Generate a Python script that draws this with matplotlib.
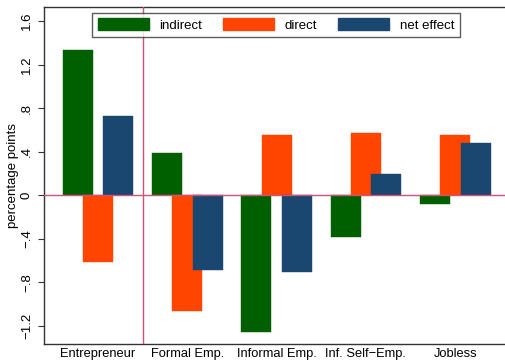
import matplotlib
matplotlib.use("Agg")
import matplotlib.pyplot as plt
import numpy as np
from matplotlib.patches import Patch

plt.rcParams['font.family'] = ['Liberation Sans', 'DejaVu Sans']

categories = ["Entrepreneur", "Formal Emp.", "Informal Emp.", "Inf. Self\u2212Emp.", "Jobless"]
indirect = [1.333, 0.383, -1.256, -0.383, -0.080]
direct = [-0.613, -1.066, 0.554, 0.573, 0.554]
net_effect = [0.726, -0.689, -0.708, 0.193, 0.478]
series_names = ["indirect", "direct", "net effect"]
colors = ["#006000", "#ff4500", "#1a476f"]
yticks = [-1.2, -0.8, -0.4, 0, 0.4, 0.8, 1.2, 1.6]
ytick_labels = ["\u22121.2", "\u2212.8", "\u2212.4", "0", ".4", ".8", "1.2", "1.6"]

fig = plt.figure(figsize=(5.05, 3.61), dpi=100)
ax = fig.add_axes([44 / 505, (361 - 344.3) / 361, 1 - 44 / 505, (344.3 - 7.3) / 361])

x = np.arange(len(categories))
width = 0.336
offsets = [-0.228, 0.0, 0.228]
for vals, off, col, name in zip([indirect, direct, net_effect], offsets, colors, series_names):
    ax.bar(x + off, vals, width=width, color=col, edgecolor=col, linewidth=0.3, label=name, zorder=2)

ax.axhline(0, color="#d05078", linewidth=1.0, zorder=3)
ax.axvline(0.5, color="#d05078", linewidth=1.0, zorder=3)

ax.set_xlim(-0.605, 4.558)
ax.set_ylim(-1.371, 1.726)
ax.set_xticks(x)
ax.set_xticklabels(categories, fontsize=9.3)
ax.tick_params(axis='x', length=0, pad=3)
ax.set_yticks(yticks)
ax.set_yticklabels(ytick_labels, fontsize=9.5, rotation=90, va='center')
ax.tick_params(axis='y', length=4, width=0.8, color="#333333", pad=4)
ax.set_ylabel("percentage points", fontsize=9.5, labelpad=1)

for side in ["left", "bottom", "top"]:
    ax.spines[side].set_color("#333333")
    ax.spines[side].set_linewidth(1.0)
ax.spines["right"].set_visible(False)

handles = [Patch(facecolor=c, edgecolor=c) for c in colors]
leg = ax.legend(handles, series_names, ncol=3, loc="center",
                bbox_to_anchor=(276 / 505, 1 - 24.7 / 361), bbox_transform=fig.transFigure,
                fontsize=9.5, frameon=True, fancybox=False, shadow=False,
                handlelength=3.9, handleheight=1.1, handletextpad=0.8,
                columnspacing=1.55, borderpad=0.4, borderaxespad=0)
leg.get_frame().set_edgecolor("#333333")
leg.get_frame().set_linewidth(1.0)
leg.set_zorder(5)

fig.savefig("out.png", dpi=100)
